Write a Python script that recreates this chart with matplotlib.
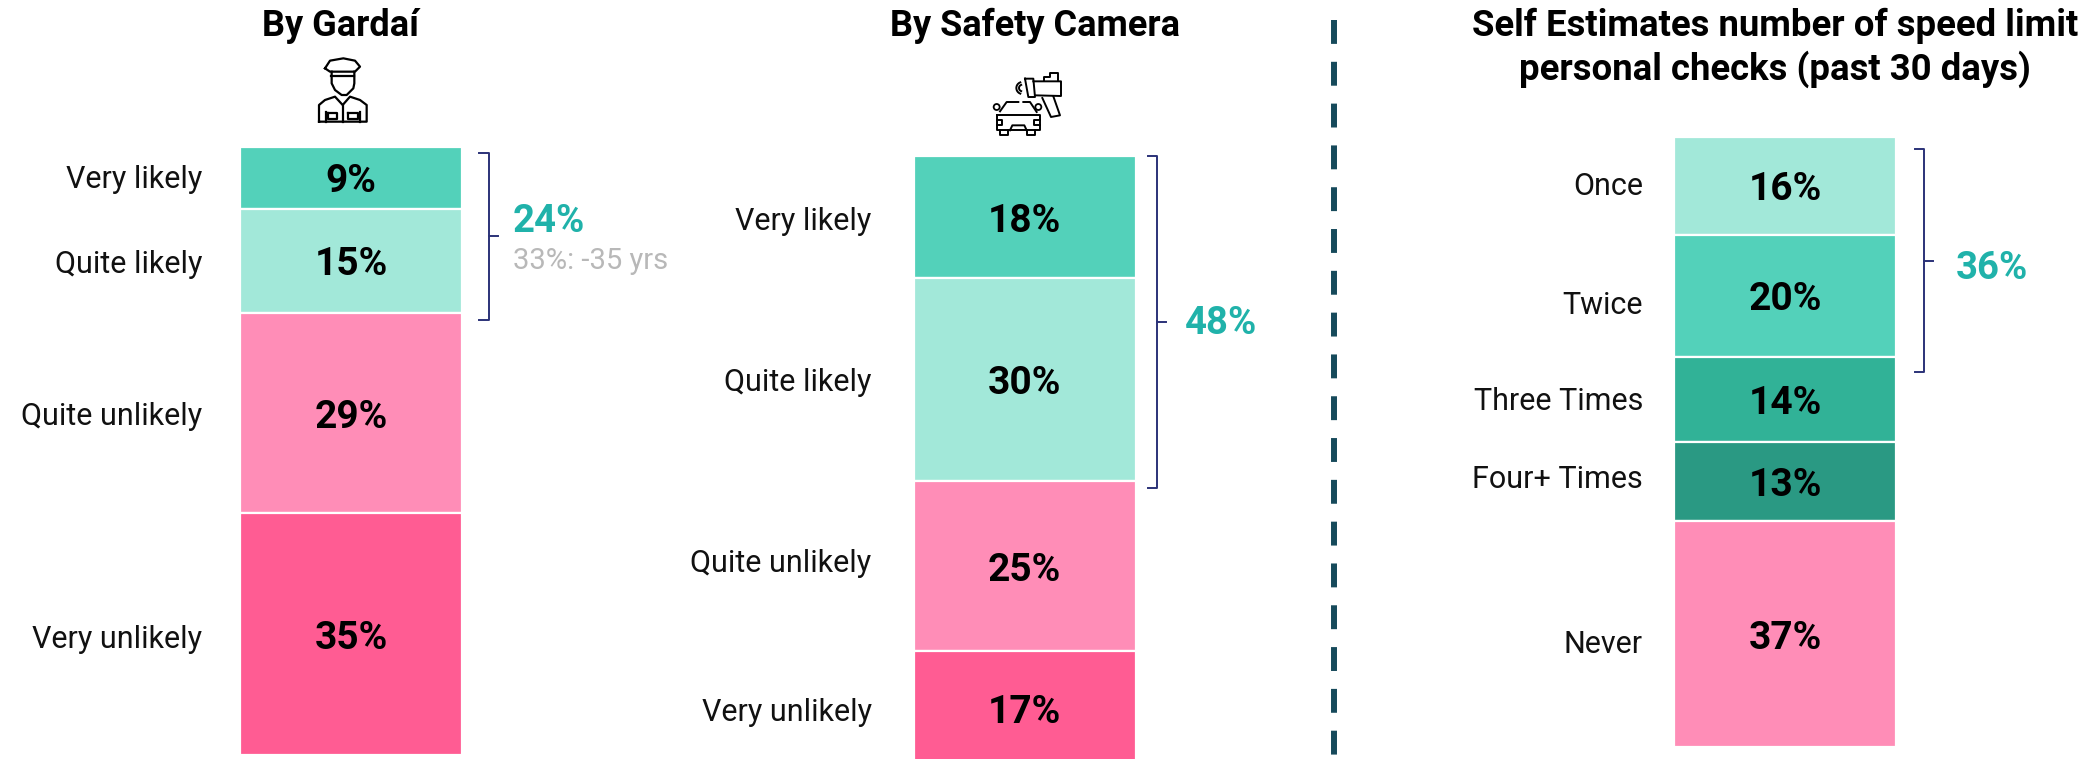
import numpy as np
import matplotlib
matplotlib.use('Agg')
import matplotlib.pyplot as plt
from matplotlib.patches import Circle

plt.rcParams['font.family'] = ['Roboto', 'DejaVu Sans']

W, H = 2088, 759

GREEN_LIGHT = '#A2E8D9'
GREEN_MID = '#53D1BA'
GREEN_DARK = '#31B297'
GREEN_DEEP = '#2A9983'
PINK = '#FF8DB7'
PINK_HOT = '#FF5C93'
TEAL = '#20B2AA'
NAVY = '#2B3278'
GREY = '#B8B8B8'

gardai_labels = ['Very likely', 'Quite likely', 'Quite unlikely', 'Very unlikely']
gardai_values = [9, 15, 29, 35]
gardai_colors = [GREEN_MID, GREEN_LIGHT, PINK, PINK_HOT]

camera_labels = ['Very likely', 'Quite likely', 'Quite unlikely', 'Very unlikely']
camera_values = [18, 30, 25, 17]
camera_colors = [GREEN_MID, GREEN_LIGHT, PINK, PINK_HOT]

checks_labels = ['Once', 'Twice', 'Three Times', 'Four+ Times', 'Never']
checks_values = [16, 20, 14, 13, 37]
checks_colors = [GREEN_LIGHT, GREEN_MID, GREEN_DARK, GREEN_DEEP, PINK]

fig = plt.figure(figsize=(W / 100, H / 100), dpi=100, facecolor='white')


def stacked(x0, top, px_per_pct, labels, values, colors, label_gap, label_nudge,
            bracket, arms, total, total_dx, total_dy):
    # one axes per column, y runs in percent from the top of the stack
    bar_w = 222
    ax = fig.add_axes([x0 / W, 0, bar_w / W, (H - top) / H])
    ax.set_xlim(0, 1)
    ax.set_ylim((H - top) / px_per_pct, 0)
    ax.axis('off')
    bottoms = np.concatenate([[0], np.cumsum(values)[:-1]])
    ax.bar(0.5, values, width=1, bottom=bottoms, color=colors,
           edgecolor='white', linewidth=1.6)
    for lab, v, b, dy in zip(labels, values, bottoms, label_nudge):
        mid = b + v / 2
        ax.annotate(f'{v}%', xy=(0.5, mid), xycoords=('axes fraction', 'data'),
                    xytext=(0, -3), textcoords='offset points', ha='center',
                    va='center', fontsize=28, fontweight='bold', color='black')
        ax.annotate(lab, xy=(0, mid), xycoords=('axes fraction', 'data'),
                    xytext=(-label_gap * 0.72, -dy * 0.72), textcoords='offset points',
                    ha='right', va='center', fontsize=22, color='#111111')
    # bracket
    y0, y1 = bracket
    arm, stem, tip = [1 + d / bar_w for d in arms]
    ym = (y0 + y1) / 2
    tr = ax.get_yaxis_transform()
    ax.plot([arm, stem, stem, arm], [y0, y0, y1, y1], color=NAVY, lw=1.4,
            transform=tr, clip_on=False, solid_joinstyle='round')
    ax.plot([stem, tip], [ym, ym], color=NAVY, lw=1.4, transform=tr, clip_on=False)
    ax.annotate(total, xy=(1, ym), xycoords=('axes fraction', 'data'),
                xytext=(total_dx * 0.72, -total_dy * 0.72), textcoords='offset points',
                ha='left', va='center', fontsize=27.5, fontweight='bold', color=TEAL)
    return ax, ym


ax1, ym1 = stacked(240, 146.5, 6.92, gardai_labels, gardai_values, gardai_colors,
                   38, [2, 4, 4, 5], (1, 25), (17, 27, 36), '24%', 51, -15)
ax1.annotate('33%: -35 yrs', xy=(1, ym1), xycoords=('axes fraction', 'data'),
             xytext=(51 * 0.72, -25 * 0.72), textcoords='offset points',
             ha='left', va='center', fontsize=21, color=GREY)
stacked(913.5, 156, 6.78, camera_labels, camera_values, camera_colors,
        42, [4, 3, -3, 4], (0, 49), (12, 21, 30), '48%', 49, 1)
stacked(1674, 137, 6.1, checks_labels, checks_values, checks_colors,
        31, [1, 10, 2, -2, 10], (2, 38.5), (19, 28, 37), '36%', 60, 8)

# overlay in picture pixels for titles, divider and icons
ov = fig.add_axes([0, 0, 1, 1], facecolor='none')
ov.set_xlim(0, W)
ov.set_ylim(H, 0)
ov.axis('off')

ov.text(340, 25.5, 'By Garda\u00ed', ha='center', va='center', fontsize=26, fontweight='bold')
ov.text(1035, 25.5, 'By Safety Camera', ha='center', va='center', fontsize=26, fontweight='bold')
ov.text(1775, 25.5, 'Self Estimates number of speed limit', ha='center', va='center',
        fontsize=26.3, fontweight='bold')
ov.text(1775, 69, 'personal checks (past 30 days)', ha='center', va='center',
        fontsize=26.3, fontweight='bold')

ov.plot([1334, 1334], [20, 759], color='#164A5B', lw=4.3,
        dashes=(24 / 6, 18 / 6), dash_capstyle='butt')


def officer(pts):
    a = np.array(pts, dtype=float)
    ov.plot(305 + a[:, 0] / 3, 50 + a[:, 1] / 3, color='black', lw=1.6,
            solid_joinstyle='round')


officer([(60, 55), (75, 32), (115, 25), (150, 32), (165, 50), (150, 65), (75, 65), (60, 55)])
officer([(78, 78), (148, 78)])
officer([(80, 65), (80, 100), (90, 120), (110, 135), (125, 135), (145, 115), (148, 100), (148, 65)])
officer([(42, 215), (42, 165), (60, 150), (90, 140), (113, 165), (135, 140), (165, 150), (185, 165), (185, 215), (42, 215)])
officer([(113, 165), (113, 215)])
officer([(68, 190), (95, 190), (95, 208), (68, 208), (68, 190)])
officer([(130, 190), (158, 190), (158, 208), (130, 208), (130, 190)])
officer([(62, 185), (62, 215)])
officer([(165, 185), (165, 215)])


def camera(pts):
    a = np.array(pts, dtype=float)
    ov.plot(985 + a[:, 0] / 3, 62 + a[:, 1] / 3, color='black', lw=1.4,
            solid_joinstyle='round')


camera([(120, 50), (145, 50), (150, 105), (130, 105), (120, 50)])
camera([(145, 58), (228, 58), (228, 102), (150, 100)])
camera([(178, 58), (178, 45), (195, 45), (195, 33), (218, 33), (218, 58)])
camera([(172, 108), (198, 165), (225, 160), (205, 103)])
camera([(45, 148), (65, 120), (100, 120)])
camera([(115, 120), (135, 120), (155, 150)])
camera([(35, 160), (165, 160), (165, 205), (35, 205), (35, 160)])
camera([(45, 205), (45, 220), (70, 220), (70, 205)])
camera([(125, 205), (125, 220), (150, 220), (150, 205)])
camera([(75, 205), (82, 190), (118, 190), (125, 205)])
camera([(35, 175), (52, 175), (52, 188), (35, 188)])
camera([(165, 175), (148, 175), (148, 188), (165, 188)])
for cx in (35, 160):
    ov.add_patch(Circle((985 + cx / 3, 62 + 135 / 3), 3, fill=False, ec='black', lw=1.3))
for r in (10, 18):
    t = np.radians(np.linspace(110, 250, 12))
    camera(np.column_stack([112 + r * np.cos(t), 78 - r * np.sin(t)]))

fig.savefig('out.png', dpi=100)
